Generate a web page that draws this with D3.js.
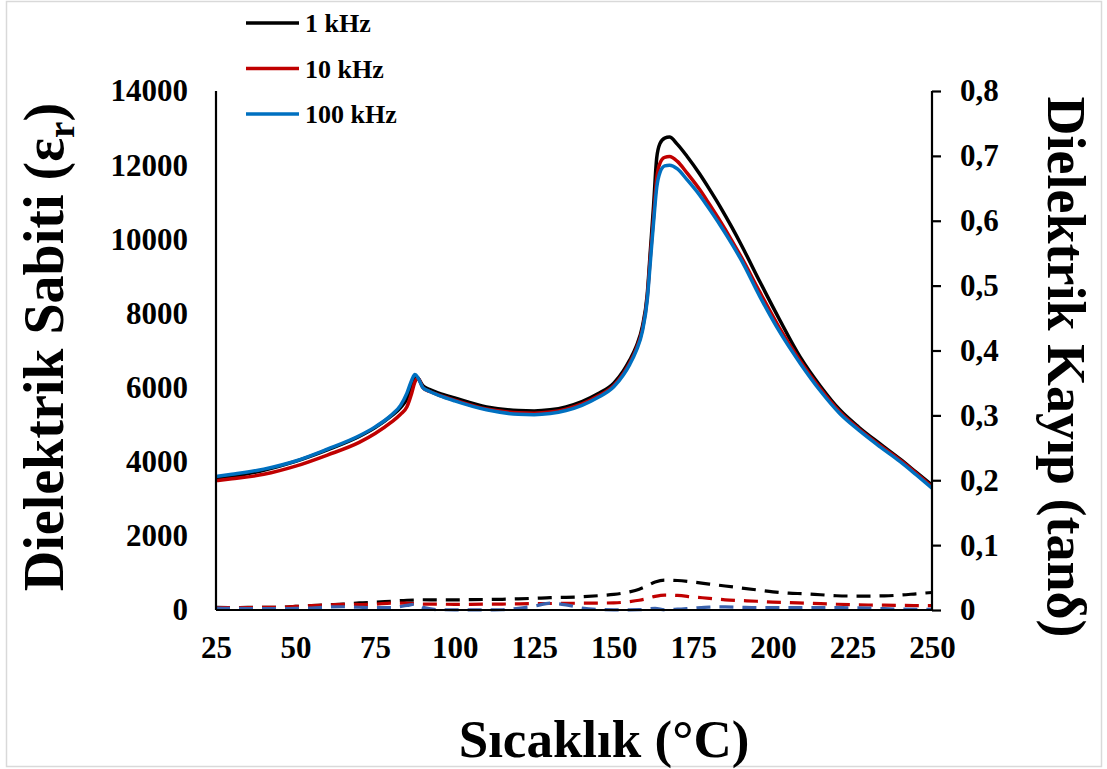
<!DOCTYPE html>
<html>
<head>
<meta charset="utf-8">
<script src="https://cdn.jsdelivr.net/npm/d3@7"></script>
<style>
  body { margin: 0; background: #fff; }
  svg text { font-family: "Liberation Serif", "Times New Roman", serif; font-weight: bold; fill: #000; }
</style>
</head>
<body>
<svg id="chart" width="1107" height="769"></svg>
<script>
// dielectric constant, shared temperature grid (°C)
var tempsE = [25,30,40,50,60,70,75,80,83,85,86.5,87.5,88.5,90,92,95,100,110,120,125,130,135,140,145,150,153,155,157,159,160.5,161.5,162.5,163.5,164.5,166,167.5,170,173,177,180,183.5,187,190,196,202,208.6,215,221,227,233.7,240,245,250]
var eps1k = [3540,3600,3770,4010,4320,4680,4920,5230,5460,5700,6100,6300,6250,6050,5950,5850,5720,5480,5380,5370,5400,5480,5620,5830,6120,6450,6740,7100,7650,8500,9700,10900,12200,12580,12730,12760,12560,12240,11760,11360,10870,10340,9860,8840,7850,6820,6030,5400,4930,4480,4070,3720,3370]
var eps10k = [3490,3540,3660,3880,4180,4520,4760,5060,5280,5480,5850,6150,6250,6000,5900,5800,5660,5420,5320,5310,5340,5420,5560,5770,6060,6380,6670,7030,7580,8420,9550,10600,11650,12050,12210,12230,12100,11790,11340,10950,10480,9980,9530,8560,7620,6720,5960,5350,4890,4440,4040,3690,3320]
var eps100k = [3600,3660,3800,4020,4340,4700,4940,5250,5520,5850,6200,6350,6260,6000,5900,5790,5640,5400,5280,5270,5300,5380,5520,5730,6020,6340,6620,6980,7520,8350,9400,10450,11400,11800,11980,12000,11900,11610,11190,10820,10370,9890,9450,8440,7520,6650,5900,5300,4850,4400,4000,3650,3290]

// dielectric loss (tan d)
var tempsT = [25,30,35,40,45,50,55,60,65,70,75,80,85,88,90,95,100,105,110,115,120,125,130,135,140,145,150,155,158,160,163,166,170,175,180,185,190,195,200,205,210,215,220,225,230,235,240,245,250]
var tan1k = [0.004,0.0037,0.004,0.004,0.0042,0.0055,0.0068,0.008,0.009,0.011,0.012,0.0135,0.015,0.0155,0.0158,0.0155,0.0155,0.016,0.0162,0.0165,0.0172,0.018,0.019,0.0195,0.0205,0.022,0.024,0.028,0.032,0.036,0.043,0.046,0.0455,0.043,0.040,0.037,0.034,0.031,0.028,0.026,0.025,0.0235,0.022,0.0215,0.0215,0.0218,0.023,0.025,0.027]
var tan10k = [0.0035,0.0036,0.0038,0.004,0.004,0.0055,0.0066,0.0078,0.0087,0.0085,0.009,0.0105,0.0105,0.0095,0.0092,0.009,0.0087,0.0088,0.009,0.0092,0.0095,0.0098,0.01,0.0103,0.0105,0.0107,0.011,0.013,0.015,0.017,0.021,0.023,0.0225,0.020,0.018,0.0157,0.0145,0.0135,0.0122,0.0113,0.0105,0.0097,0.0089,0.0082,0.0077,0.0074,0.0071,0.0068,0.0066]
var tan100k = [0.0028,0.0026,0.0022,0.002,0.002,0.0025,0.003,0.0045,0.005,0.0042,0.0036,0.0038,0.007,0.0092,0.004,0.0005,0.0003,0.0003,0.0003,0.0004,0.0025,0.006,0.0105,0.008,0.003,0.0008,0.0003,0.0003,0.0005,0.0012,0.0025,0.0003,0.0012,0.003,0.0045,0.0048,0.0042,0.0037,0.0036,0.0036,0.0036,0.0036,0.0036,0.0034,0.003,0.002,0.0014,0.0011,0.001]

var xTicks = [25,50,75,100,125,150,175,200,225,250]
var yTicks = [0,2000,4000,6000,8000,10000,12000,14000]
var y2Ticks = [0,0.1,0.2,0.3,0.4,0.5,0.6,0.7,0.8]

var freqs = ['1 kHz', '10 kHz', '100 kHz']
var solidColors = ['#000000', '#c00000', '#0070c0']
var dashColors = ['#000000', '#c00000', '#3a62ad']

var svg = d3.select('#chart')

// light frame around the picture
svg.append('rect')
  .attr('x', 6.5).attr('y', 1.5)
  .attr('width', 1095).attr('height', 765)
  .attr('fill', 'none').attr('stroke', '#d9d9d9').attr('stroke-width', 1.5)

var x = d3.scaleLinear().domain([25, 250]).range([216, 932])
var y = d3.scaleLinear().domain([0, 14000]).range([610, 91])
var y2 = d3.scaleLinear().domain([0, 0.8]).range([610, 91])

// tan d lines (behind)
var tanSeries = [tan1k, tan10k, tan100k]
tanSeries.forEach(function(vals, i) {
  var line = d3.line()
    .x(function(d, j) { return x(tempsT[j]) })
    .y(function(d) { return y2(d) })
    .curve(d3.curveMonotoneX)
  svg.append('path')
    .datum(vals)
    .attr('d', line)
    .attr('fill', 'none')
    .attr('stroke', dashColors[i])
    .attr('stroke-width', 3.2)
    .attr('stroke-dasharray', '14,9')
})

// dielectric constant lines
var epsSeries = [eps1k, eps10k, eps100k]
epsSeries.forEach(function(vals, i) {
  var line = d3.line()
    .x(function(d, j) { return x(tempsE[j]) })
    .y(function(d) { return y(d) })
    .curve(d3.curveMonotoneX)
  svg.append('path')
    .datum(vals)
    .attr('d', line)
    .attr('fill', 'none')
    .attr('stroke', solidColors[i])
    .attr('stroke-width', 3.5)
    .attr('stroke-linejoin', 'round')
})

// axes
var gx = svg.append('g').attr('transform', 'translate(0,610)')
  .call(d3.axisBottom(x).tickValues(xTicks).tickSize(0).tickPadding(26).tickFormat(d3.format('d')))
var gy = svg.append('g').attr('transform', 'translate(216,0)')
  .call(d3.axisLeft(y).tickValues(yTicks).tickSize(0).tickPadding(28).tickFormat(d3.format('d')))
var gy2 = svg.append('g').attr('transform', 'translate(932,0)')
  .call(d3.axisRight(y2).tickValues(y2Ticks).tickSize(9).tickPadding(19)
    .tickFormat(function(d) { return d === 0 ? '0' : d3.format('.1f')(d).replace('.', ',') }))

;[gx, gy, gy2].forEach(function(g) {
  g.select('.domain').attr('stroke', '#000').attr('stroke-width', 2.2)
  g.selectAll('.tick line').attr('stroke', '#000').attr('stroke-width', 2.2)
  g.selectAll('.tick text')
    .attr('font-family', '"Liberation Serif", "Times New Roman", serif')
    .attr('font-weight', 'bold')
    .attr('font-size', 31)
    .attr('fill', '#000')
})
gy.select('.domain').attr('d', 'M0,91V610')
gx.select('.domain').attr('d', 'M216,0H932')
gy2.select('.domain').attr('d', 'M0,91V610')

// axis titles
svg.append('text')
  .attr('x', 604).attr('y', 757)
  .attr('text-anchor', 'middle')
  .attr('font-size', 53)
  .text('Sıcaklık (°C)')

var lt = svg.append('text')
  .attr('transform', 'translate(63,347) rotate(-90)')
  .attr('text-anchor', 'middle')
  .attr('font-size', 56)
lt.append('tspan').text('Dielektrik Sabiti (ε')
lt.append('tspan').attr('font-size', 37).attr('dy', 11).text('r')
lt.append('tspan').attr('dy', -11).text(')')

svg.append('text')
  .attr('transform', 'translate(1048,367) rotate(90)')
  .attr('text-anchor', 'middle')
  .attr('font-size', 54)
  .text('Dielektrik Kayıp (tanδ)')

// legend
var leg = svg.append('g')
freqs.forEach(function(f, i) {
  var ly = 23 + i * 45.5
  leg.append('line')
    .attr('x1', 246).attr('x2', 299)
    .attr('y1', ly).attr('y2', ly)
    .attr('stroke', solidColors[i]).attr('stroke-width', 3.5)
  leg.append('text')
    .attr('x', 305).attr('y', ly + 9)
    .attr('font-size', 26)
    .text(f)
})
</script>
</body>
</html>
